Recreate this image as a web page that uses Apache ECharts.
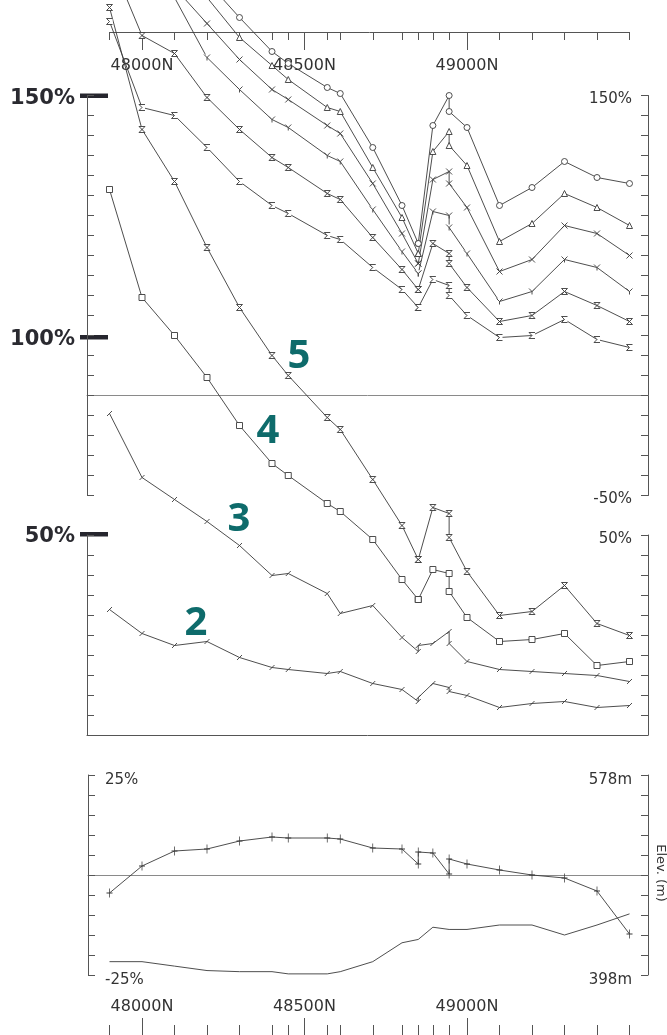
<!DOCTYPE html>
<html><head><meta charset="utf-8">
<script src="https://cdn.jsdelivr.net/npm/echarts@6/dist/echarts.min.js"></script>
<style>html,body{margin:0;padding:0;background:#fff}#c{width:667px;height:1035px}</style>
</head><body><div id="c"></div>
<script>
// Station positions (northing); some stations appear twice where a profile jumps vertically
const stations = [47900,48000,48100,48200,48300,48400,48450,48570,48610,48710,48800,48850,48850,48895,48945,48945,49000,49100,49200,49300,49400,49500];
const tickStations = [47900,48000,48100,48200,48300,48400,48450,48570,48610,48710,48800,48850,48895,48945,49000,49100,49200,49300,49400,49500];
const majorTicks = [48000,48500,49000];

// Upper group of profiles (percent, upper-panel scale)
const curveCircle   = [null,null,null,207,189,172,166,154,151,124,95,76,76,135,150,142,134,95,104,117,109,106];
const curveTriangle = [null,null,null,199,179,165,158,144,142,114,89,71,71,122,132,125,115,77,86,101,94,85];
const curveCross    = [null,null,204,186,168,153,148,135,131,106,81,66,66,108,112,106,94,62,68,85,81,70];
const curveFork     = [null,null,199,169,153,138,134,120,117,93,72,61,61,92,90,84,71,47,52,68,64,52];
const curveBowtie   = [219,180,171,149,133,119,114,101,98,79,63,53,53,76,71,66,54,37,40,52,45,37];
const curveSigma    = [187,144,140,124,107,95,91,80,78,64,53,44,44,58,55,50,40,29,30,38,28,24];
// Numbered profiles 5, 4, 3, 2
const curve5 = [194,133,107,74,44,20,10,-11,-17,-42,-65,-82,-82,-56,-59,-71,-88,-110,-108,-95,-114,-120];
const curve4 = [103,49,30,9,-15,-34,-40,-54,-58,-72,-92,-102,-102,-87,-89,-98,-111,-123,-122,-119,-135,-133];
const curve3 = [-9,-41,-52,-63,-75,-90,-89,-99,-109,-105,-121,-128,-125,-124,-118,-124,-133,-137,-138,-139,-140,-143];
const curve2 = [-107,-119,-125,-123,-131,-136,-137,-139,-138,-144,-147,-153,-151,-144,-146,-148,-150,-156,-154,-153,-156,-155];
// Bottom panel
const bottomPercent = [-4.5,2.25,6,6.5,8.5,9.5,9.25,9.25,9,6.75,6.5,2.75,5.75,5.5,0.25,4,2.75,1.25,0,-0.75,-4,-14.75];
const elevation = [410,410,406,402,401,401,399,399,401,410,427,430,430,441,439,439,439,443,443,434,443,453];

// Axis label values
const upperRightLabels = [150,-50];
const lowerRightLabels = [50];
const bottomLeftLabels = [25,-25];
const elevTicks = [398,416,434,452,470,488,506,524,542,560,578];
const elevLabels = [398,578];

const pair = arr => stations.map((s,i)=>arr[i]==null?null:[s,arr[i]]).filter(d=>d);

const LINE = '#3a3a3a';
const AX = '#555';
const TXT = '#333';
const FONT = '"DejaVu Sans", sans-serif';

function line(name, arr, symbol, size, xi, yi, opt){
  return Object.assign({
    type:'line', name, data: pair(arr), xAxisIndex: xi, yAxisIndex: yi,
    symbol, symbolSize: size, showAllSymbol: true,
    lineStyle:{color:LINE, width:0.9},
    itemStyle:{color:'#fff', borderColor:LINE, borderWidth:0.9},
    emphasis:{disabled:true}, silent:true, animation:false
  }, opt||{});
}
const hide = {show:false};
function g(left,width,top,height){return {left,width,top,height,containLabel:false,outerBoundsMode:'none'};}
function xHidden(gi){return {gridIndex:gi,type:'value',min:47900,max:49500,show:false};}
function yHidden(gi,min,max){return {gridIndex:gi,type:'value',min,max,show:false};}
function xTickAxis(gi,pos,len,values,labels,margin){
  return {gridIndex:gi,type:'value',min:47900,max:49500,position:pos,
    axisLine:{show:!labels,onZero:false,lineStyle:{color:AX,width:1}},
    axisTick:{show:true,inside:true,length:len,customValues:values,lineStyle:{color:AX}},
    axisLabel: labels ? {show:true,inside:true,margin:margin,customValues:values,formatter:v=>v+'N',
        color:TXT,fontSize:16,fontFamily:FONT} : {show:false},
    splitLine:hide};
}
function yLabel(pad){return {color:TXT,fontSize:15,fontFamily:FONT,verticalAlign:'top',lineHeight:pad};}

const chart = echarts.init(document.getElementById('c'));
chart.setOption({
  backgroundColor:'#fff',
  animation:false,
  grid:[
    g(109.5,520,0,735.5),    // 0 main data
    g(109.5,520,32,600),     // 1 top axis minor
    g(109.5,520,32,600),     // 2 top axis major
    g(109.5,520,400,636),    // 3 bottom axis minor
    g(109.5,520,400,636),    // 4 bottom axis major
    g(87,561,95.5,400),      // 5 upper frame
    g(87,561,535,200),       // 6 lower frame
    g(88,560,775,200),       // 7 bottom frame
    g(109.5,520,775,200)     // 8 bottom data
  ],
  xAxis:[
    xHidden(0),
    xTickAxis(1,'top',8,tickStations,false),
    xTickAxis(2,'top',18,majorTicks,true,26),
    xTickAxis(3,'bottom',11,tickStations,false),
    xTickAxis(4,'bottom',18,majorTicks,true,21),
    {gridIndex:5,type:'value',min:0,max:1,axisLine:{show:true,onZero:true,lineStyle:{color:'#8a8a8a',width:1}},
      axisTick:hide,axisLabel:hide,splitLine:hide},
    {gridIndex:6,type:'value',min:0,max:1,position:'bottom',axisLine:{show:true,onZero:false,lineStyle:{color:AX,width:1}},
      axisTick:hide,axisLabel:hide,splitLine:hide},
    {gridIndex:7,type:'value',min:0,max:1,axisLine:{show:true,onZero:true,lineStyle:{color:'#8a8a8a',width:1}},
      axisTick:hide,axisLabel:hide,splitLine:hide},
    xHidden(8)
  ],
  yAxis:[
    yHidden(0,-170,197.75),   // 0
    yHidden(1,0,1),           // 1
    yHidden(2,0,1),           // 2
    yHidden(3,0,1),           // 3
    yHidden(4,0,1),           // 4
    {gridIndex:5,type:'value',min:-50,max:150,interval:10,position:'left',   // 5
      axisLine:{show:true,lineStyle:{color:AX}},axisTick:{show:true,inside:true,length:7,lineStyle:{color:AX}},
      axisLabel:hide,splitLine:hide},
    {gridIndex:5,type:'value',min:-50,max:150,interval:10,position:'right',  // 6
      axisLine:{show:true,lineStyle:{color:AX}},axisTick:{show:true,inside:true,length:7,lineStyle:{color:AX}},
      axisLabel:Object.assign({show:true,inside:true,margin:16,customValues:upperRightLabels,formatter:v=>v+'%'},yLabel(7)),
      splitLine:hide},
    {gridIndex:6,type:'value',min:-50,max:50,interval:10,position:'left',    // 7
      axisLine:{show:true,lineStyle:{color:AX}},axisTick:{show:true,inside:true,length:7,lineStyle:{color:AX}},
      axisLabel:hide,splitLine:hide},
    {gridIndex:6,type:'value',min:-50,max:50,interval:10,position:'right',   // 8
      axisLine:{show:true,lineStyle:{color:AX}},axisTick:{show:true,inside:true,length:7,lineStyle:{color:AX}},
      axisLabel:Object.assign({show:true,inside:true,margin:16,customValues:lowerRightLabels,formatter:v=>v+'%'},yLabel(8)),
      splitLine:hide},
    {gridIndex:7,type:'value',min:-25,max:25,interval:5,position:'left',     // 9
      axisLine:{show:true,lineStyle:{color:AX}},axisTick:{show:true,inside:true,length:7,lineStyle:{color:AX}},
      axisLabel:Object.assign({show:true,inside:true,margin:17,customValues:bottomLeftLabels,formatter:v=>v+'%'},yLabel(10)),
      splitLine:hide},
    {gridIndex:7,type:'value',min:398,max:578,position:'right',              // 10
      axisLine:{show:true,lineStyle:{color:AX}},
      axisTick:{show:true,inside:true,length:7,customValues:elevTicks,lineStyle:{color:AX}},
      axisLabel:Object.assign({show:true,inside:true,margin:16,customValues:elevLabels,formatter:v=>v+'m'},yLabel(10)),
      splitLine:hide},
    yHidden(8,-25,25),        // 11
    yHidden(8,398,578)        // 12
  ],
  series:[
    line('circle',curveCircle,'circle',6,0,0),
    line('triangle',curveTriangle,'triangle',6,0,0),
    line('cross',curveCross,'path://M0,0 L10,10 M10,0 L0,10',6,0,0),
    line('fork',curveFork,'path://M0,0 L5,5 L10,0 M5,5 L5,10',6,0,0),
    line('bowtie',curveBowtie,'path://M0,0 L10,0 L0,10 L10,10 Z',6,0,0),
    line('sigma',curveSigma,'path://M10,0 L0,0 L5,5 L0,10 L10,10',6,0,0),
    line('5',curve5,'path://M0,0 L10,0 L0,10 L10,10 Z',6,0,0),
    line('4',curve4,'rect',6,0,0),
    line('3',curve3,'path://M0,10 L10,0',5,0,0),
    line('2',curve2,'path://M0,10 L10,0',5,0,0),
    line('percent',bottomPercent,'path://M5,0 L5,10 M2,5 L8,5',[6,9],8,11),
    line('elevation',elevation,'none',0,8,12)
  ],
  graphic:[
    {type:'text',x:660,y:873,rotation:-Math.PI/2,style:{text:'Elev. (m)',align:'center',verticalAlign:'middle',font:'13px "DejaVu Sans"',fill:TXT}},
    {type:'rect',shape:{x:80,y:93.5,width:28,height:4.5},style:{fill:'#26262e'}},
    {type:'rect',shape:{x:80,y:335,width:28,height:4.5},style:{fill:'#26262e'}},
    {type:'rect',shape:{x:80,y:532,width:28,height:4.5},style:{fill:'#26262e'}},
    {type:'text',x:75,y:99,style:{text:'150%',align:'right',verticalAlign:'middle',font:'bold 21px "DejaVu Sans"',fill:'#2a2a30'}},
    {type:'text',x:75,y:340,style:{text:'100%',align:'right',verticalAlign:'middle',font:'bold 21px "DejaVu Sans"',fill:'#2a2a30'}},
    {type:'text',x:75,y:537,style:{text:'50%',align:'right',verticalAlign:'middle',font:'bold 21px "DejaVu Sans"',fill:'#2a2a30'}},
    {type:'text',x:299,y:357,style:{text:'5',align:'center',verticalAlign:'middle',font:'bold 40px "Open Sans"',fill:'#0e6b6b'}},
    {type:'text',x:268,y:432,style:{text:'4',align:'center',verticalAlign:'middle',font:'bold 40px "Open Sans"',fill:'#0e6b6b'}},
    {type:'text',x:239,y:520,style:{text:'3',align:'center',verticalAlign:'middle',font:'bold 40px "Open Sans"',fill:'#0e6b6b'}},
    {type:'text',x:196,y:624,style:{text:'2',align:'center',verticalAlign:'middle',font:'bold 40px "Open Sans"',fill:'#0e6b6b'}}
  ]
});
</script></body></html>
